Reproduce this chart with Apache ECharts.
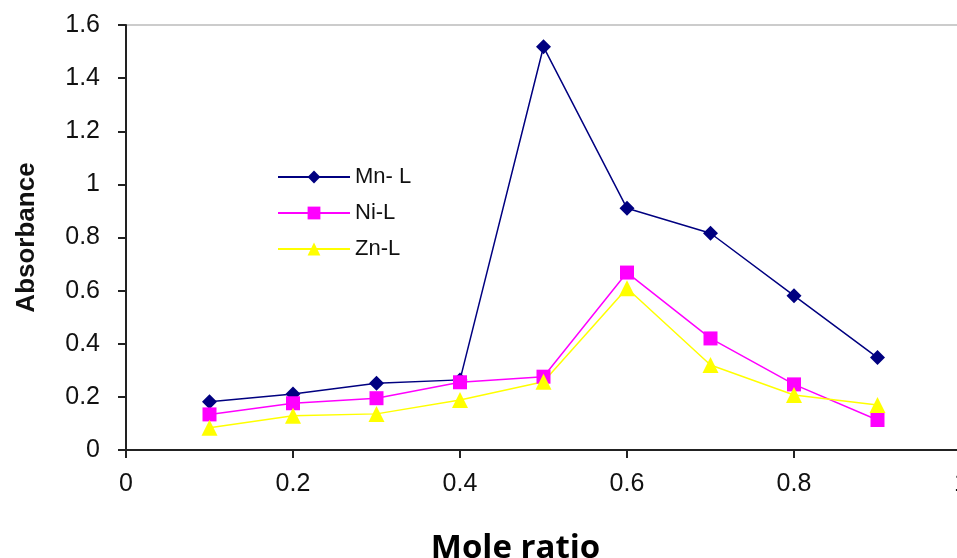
<!DOCTYPE html>
<html>
<head>
<meta charset="utf-8">
<script src="https://cdn.jsdelivr.net/npm/echarts@6/dist/echarts.min.js"></script>
<style>html,body{margin:0;padding:0;background:#fff}#c{width:957px;height:558px}</style>
</head>
<body>
<div id="c"></div>
<script>
const moleRatio = [0.1, 0.2, 0.3, 0.4, 0.5, 0.6, 0.7, 0.8, 0.9];
const mnL = [0.182, 0.211, 0.251, 0.264, 1.518, 0.91, 0.816, 0.581, 0.348];
const niL = [0.134, 0.176, 0.195, 0.255, 0.276, 0.668, 0.42, 0.247, 0.113];
const znL = [0.084, 0.129, 0.136, 0.188, 0.257, 0.609, 0.32, 0.207, 0.169];
const seriesNames = ['Mn- L', 'Ni-L', 'Zn-L'];

const pairs = arr => moleRatio.map((x, i) => [x, arr[i]]);
const chart = echarts.init(document.getElementById('c'));
const axisCol = '#222';
const font = 'Liberation Sans, Arial, sans-serif';
chart.setOption({
  animation: false,
  backgroundColor: '#fff',
  grid: { left: 126, top: 25, width: 835, bottom: 108, containLabel: false, outerBoundsMode: 'none',
          show: true, borderColor: '#999', borderWidth: 1 },
  legend: {
    orient: 'vertical', left: 272, top: 161, itemWidth: 72, itemHeight: 16, itemGap: 14,
    textStyle: { fontFamily: font, fontSize: 22, color: '#111' },
    data: seriesNames
  },
  xAxis: {
    type: 'value', min: 0, max: 1, interval: 0.2,
    name: 'Mole ratio', nameLocation: 'middle', nameGap: 82,
    nameTextStyle: { fontFamily: 'Open Sans', fontWeight: 'bold', fontSize: 33, color: '#000', padding: [0, 56, 0, 0] },
    splitLine: { show: false },
    axisLine: { lineStyle: { color: axisCol, width: 2 } },
    axisTick: { show: true, length: 8, lineStyle: { color: axisCol, width: 2 } },
    axisLabel: { fontFamily: font, fontSize: 25, color: '#111', margin: 22, formatter: v => String(+v.toFixed(1)) }
  },
  yAxis: {
    type: 'value', min: 0, max: 1.6, interval: 0.2,
    name: 'Absorbance', nameLocation: 'middle', nameGap: 86,
    nameTextStyle: { fontFamily: font, fontWeight: 'bold', fontSize: 26, color: '#111' },
    splitLine: { show: false },
    axisLine: { show: true, lineStyle: { color: axisCol, width: 2 } },
    axisTick: { show: true, length: 8, lineStyle: { color: axisCol, width: 2 } },
    axisLabel: { fontFamily: font, fontSize: 25, color: '#111', margin: 26, formatter: v => String(+v.toFixed(1)) }
  },
  series: [
    { name: seriesNames[0], type: 'line', data: pairs(mnL), symbol: 'diamond', symbolSize: 15,
      itemStyle: { color: '#000080' }, lineStyle: { color: '#000080', width: 1.5 } },
    { name: seriesNames[1], type: 'line', data: pairs(niL), symbol: 'rect', symbolSize: 14,
      itemStyle: { color: '#ff00ff' }, lineStyle: { color: '#ff00ff', width: 1.5 } },
    { name: seriesNames[2], type: 'line', data: pairs(znL), symbol: 'triangle', symbolSize: 16,
      itemStyle: { color: '#ffff00' }, lineStyle: { color: '#ffff00', width: 1.5 } }
  ]
});
</script>
</body>
</html>
